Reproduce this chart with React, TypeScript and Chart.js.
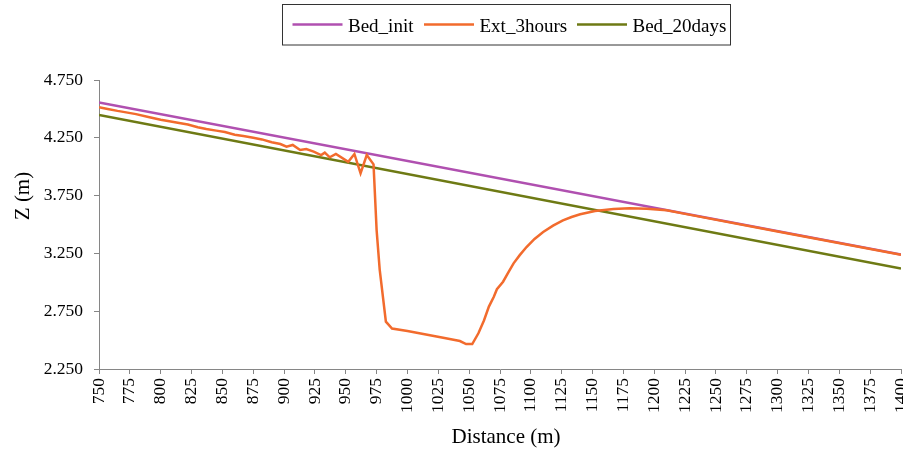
import React, { useEffect, useRef } from 'react';
import { Chart, registerables } from 'chart.js';

Chart.register(...registerables);

const seriesNames = ['Bed_init', 'Ext_3hours', 'Bed_20days'];
const seriesColors = ['#B050B0', '#F26B2D', '#6E7A14'];

const bedInitDistance = [750, 1400];
const bedInitZ = [4.555, 3.24];

const ext3Distance = [
  750, 757, 765, 772, 780, 790, 800, 807, 815, 822, 830, 837, 845, 852, 860, 867, 875, 882, 890, 897,
  902, 907, 913, 918, 924, 930, 933, 937, 942, 952, 957, 962, 967, 972.5, 975, 977.5, 982.5, 987.5,
  1000, 1015, 1030, 1042.5, 1047.5, 1052.5, 1057.5, 1062, 1066, 1070, 1072.5, 1077.5, 1082, 1086,
  1091, 1096.5, 1103, 1110, 1118, 1126, 1133, 1140, 1152, 1167, 1180, 1194, 1210, 1225, 1300, 1400,
];
const ext3Z = [
  4.515, 4.5, 4.483, 4.47, 4.455, 4.43, 4.406, 4.393, 4.378, 4.365, 4.342, 4.326, 4.312, 4.3, 4.277, 4.265, 4.25, 4.236, 4.212, 4.196,
  4.173, 4.188, 4.144, 4.153, 4.13, 4.101, 4.122, 4.081, 4.11, 4.043, 4.11, 3.943, 4.101, 4.02, 3.452, 3.11, 2.66, 2.6,
  2.578, 2.548, 2.518, 2.492, 2.466, 2.466, 2.559, 2.67, 2.79, 2.875, 2.94, 3.005, 3.09, 3.164,
  3.235, 3.305, 3.375, 3.435, 3.49, 3.535, 3.565, 3.588, 3.617, 3.634, 3.64, 3.637, 3.623, 3.592, 3.44, 3.238,
];

const bed20Distance = [750, 1400];
const bed20Z = [4.447, 3.119];

const xMin = 750;
const xMax = 1400;
const xStep = 25;
const yMin = 2.25;
const yMax = 4.75;
const yStep = 0.5;

const xTitle = 'Distance (m)';
const yTitle = 'Z (m)';

const FONT = "'Liberation Serif', 'Times New Roman', Times, serif";
const AXIS_COLOR = '#868686';

const toPoints = (xs: number[], ys: number[]) => xs.map((x, i) => ({ x, y: ys[i] }));

const legendLineStarts = [292.5, 424, 577];

const decorPlugin = {
  id: 'decor',
  afterDraw(chart: any) {
    const ctx = chart.ctx as CanvasRenderingContext2D;
    ctx.save();
    ctx.fillStyle = '#000';
    ctx.font = `21px ${FONT}`;
    ctx.textAlign = 'center';
    ctx.textBaseline = 'alphabetic';
    ctx.fillText(xTitle, 506, 443);
    ctx.save();
    ctx.translate(28.5, 196);
    ctx.rotate(-Math.PI / 2);
    ctx.fillText(yTitle, 0, 0);
    ctx.restore();
    ctx.strokeStyle = '#333';
    ctx.lineWidth = 1;
    ctx.strokeRect(282.5, 4.5, 448, 40.5);
    ctx.font = `19px ${FONT}`;
    ctx.textAlign = 'left';
    chart.data.datasets.forEach((ds: any, i: number) => {
      const x0 = legendLineStarts[i];
      ctx.strokeStyle = ds.borderColor;
      ctx.lineWidth = 2.5;
      ctx.beginPath();
      ctx.moveTo(x0, 24.5);
      ctx.lineTo(x0 + 50, 24.5);
      ctx.stroke();
      ctx.fillStyle = '#000';
      ctx.fillText(ds.label, x0 + 55.5, 31.5);
    });
    ctx.restore();
  },
};

export default function App() {
  const ref = useRef<HTMLCanvasElement>(null);
  useEffect(() => {
    if (!ref.current) return;
    const chart = new Chart(ref.current, {
      type: 'line',
      data: {
        datasets: [
          {
            label: seriesNames[0],
            data: toPoints(bedInitDistance, bedInitZ),
            borderColor: seriesColors[0],
            backgroundColor: seriesColors[0],
            borderWidth: 2.5,
            pointRadius: 0,
            tension: 0,
            order: 1,
          },
          {
            label: seriesNames[1],
            data: toPoints(ext3Distance, ext3Z),
            borderColor: seriesColors[1],
            backgroundColor: seriesColors[1],
            borderWidth: 2.5,
            pointRadius: 0,
            tension: 0,
            order: 0,
          },
          {
            label: seriesNames[2],
            data: toPoints(bed20Distance, bed20Z),
            borderColor: seriesColors[2],
            backgroundColor: seriesColors[2],
            borderWidth: 2.5,
            pointRadius: 0,
            tension: 0,
            order: 2,
          },
        ],
      },
      options: {
        animation: false,
        responsive: false,
        layout: { padding: { left: 0, right: 2, top: 80, bottom: 0 } },
        plugins: { legend: { display: false }, tooltip: { enabled: false } },
        scales: {
          x: {
            type: 'linear',
            min: xMin,
            max: xMax,
            ticks: {
              stepSize: xStep,
              autoSkip: false,
              maxRotation: 90,
              minRotation: 90,
              padding: 4,
              color: '#000',
              font: { family: FONT, size: 17.5 },
              callback: (v: any) => String(v),
            },
            grid: { drawOnChartArea: false, tickLength: 5, color: AXIS_COLOR },
            border: { color: AXIS_COLOR },
            afterFit: (s: any) => {
              s.height = 80;
              s.paddingLeft = 0;
              s.paddingRight = 0;
            },
          },
          y: {
            type: 'linear',
            min: yMin,
            max: yMax,
            ticks: {
              stepSize: yStep,
              padding: 11,
              color: '#000',
              font: { family: FONT, size: 17.5 },
              callback: (v: any) => Number(v).toFixed(3),
            },
            grid: { drawOnChartArea: false, tickLength: 5, color: AXIS_COLOR },
            border: { color: AXIS_COLOR },
            afterFit: (s: any) => {
              s.width = 99;
              s.paddingTop = 0;
              s.paddingBottom = 0;
            },
          },
        },
      },
      plugins: [decorPlugin],
    } as any);
    return () => chart.destroy();
  }, []);
  return (
    <div style={{ position: 'absolute', left: 0, top: 0, width: 903, height: 449, background: '#fff' }}>
      <canvas ref={ref} width={903} height={449} style={{ display: 'block' }} />
    </div>
  );
}
